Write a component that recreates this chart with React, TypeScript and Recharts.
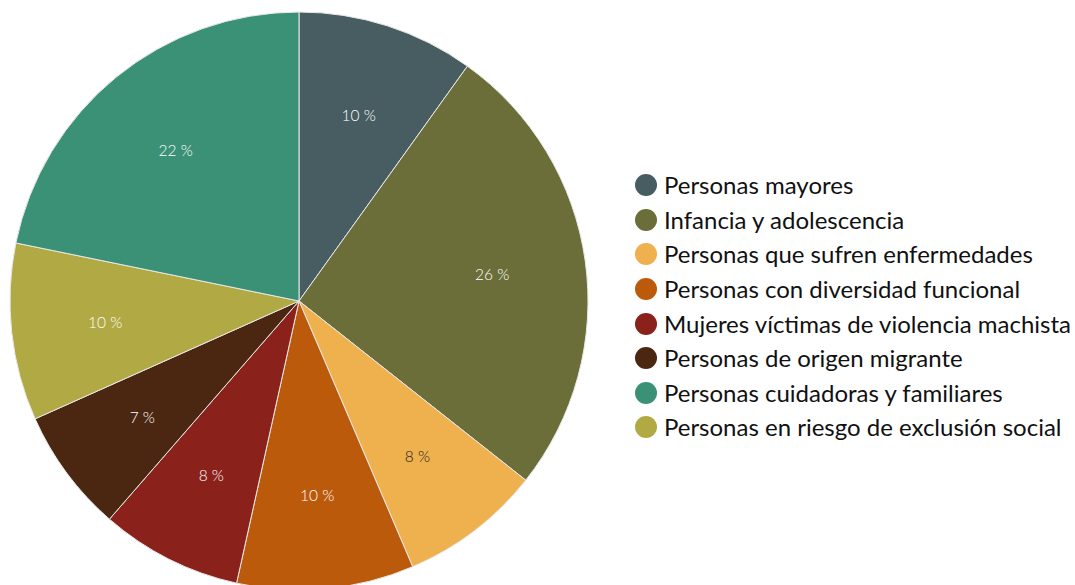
import { PieChart, Pie, Cell } from 'recharts';

// slices in drawing order (clockwise from 12 o'clock)
const groups = [
  'Personas mayores',
  'Infancia y adolescencia',
  'Personas que sufren enfermedades',
  'Personas con diversidad funcional',
  'Mujeres víctimas de violencia machista',
  'Personas de origen migrante',
  'Personas en riesgo de exclusión social',
  'Personas cuidadoras y familiares',
];
const shares = [10, 26, 8, 10, 8, 7, 10, 22];
const colors = ['#475d62', '#6b6e38', '#efb04e', '#bb5a0b', '#8a211b', '#4b2610', '#b1aa44', '#3a9176'];
const labelColors = ['#fff', '#fff', '#222', '#fff', '#fff', '#fff', '#fff', '#fff'];

// legend lists the groups in this order
const legendOrder = [0, 1, 2, 3, 4, 5, 7, 6];

const data = groups.map((name, i) => ({ name, value: shares[i] }));

const FONT = 'Lato, "DejaVu Sans", sans-serif';
const RAD = Math.PI / 180;

function SliceLabel(props: any) {
  const { cx, cy, midAngle, value, index } = props;
  const r = 195;
  const x = cx + r * Math.cos(-midAngle * RAD);
  const y = cy + r * Math.sin(-midAngle * RAD);
  return (
    <text
      x={x}
      y={y}
      fill={labelColors[index]}
      textAnchor="middle"
      dominantBaseline="central"
      fontSize={15.5}
      fontFamily={FONT}
      fontWeight={300}
    >
      {value} %
    </text>
  );
}

function GroupLegend() {
  return (
    <div style={{ fontFamily: FONT, fontSize: 24, color: '#111', lineHeight: 1 }}>
      {legendOrder.map((i) => (
        <div key={groups[i]} style={{ display: 'flex', alignItems: 'center', height: 34.6 }}>
          <span
            style={{
              width: 22,
              height: 22,
              borderRadius: '50%',
              background: colors[i],
              marginRight: 7,
              flexShrink: 0,
            }}
          />
          <span style={{ whiteSpace: 'nowrap' }}>{groups[i]}</span>
        </div>
      ))}
    </div>
  );
}

export default function App() {
  return (
    <div style={{ position: 'absolute', left: 0, top: 0, width: 1075, height: 585, background: '#fff' }}>
      <PieChart width={1075} height={585} margin={{ top: 0, right: 0, bottom: 0, left: 0 }}>
        <Pie
          data={data}
          dataKey="value"
          nameKey="name"
          cx={299}
          cy={301}
          outerRadius={289}
          startAngle={90}
          endAngle={-270}
          stroke="#e8e8e8"
          strokeWidth={1}
          label={SliceLabel}
          labelLine={false}
          isAnimationActive={false}
        >
          {data.map((d, i) => (
            <Cell key={d.name} fill={colors[i]} />
          ))}
        </Pie>
      </PieChart>
      <div style={{ position: 'absolute', left: 635, top: 168 }}>
        <GroupLegend />
      </div>
    </div>
  );
}
